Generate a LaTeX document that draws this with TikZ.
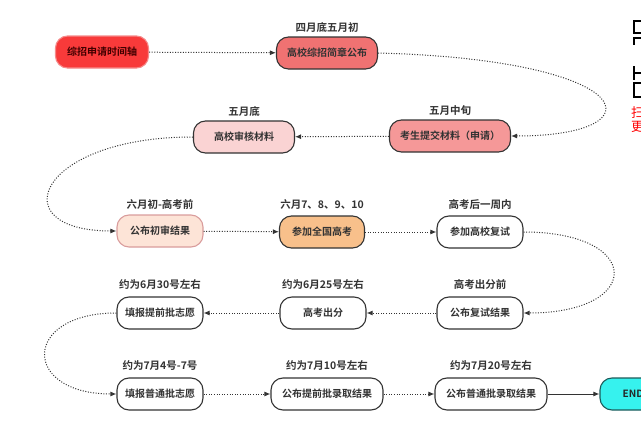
\documentclass[tikz,border=0pt]{standalone}
\usepackage{fontspec}
\setmainfont{Noto Sans CJK SC}[BoldFont={Noto Sans CJK SC Bold}]
\usetikzlibrary{arrows.meta,positioning}

\definecolor{startred}{HTML}{F83A3A}
\definecolor{startline}{HTML}{F58A8A}
\definecolor{redA}{HTML}{F07272}
\definecolor{redB}{HTML}{F59898}
\definecolor{pinkC}{HTML}{FAD3D3}
\definecolor{peachD}{HTML}{FDE4D7}
\definecolor{peachline}{HTML}{D99C9C}
\definecolor{orangeE}{HTML}{F8C08B}
\definecolor{endcyan}{HTML}{36F2EE}
\definecolor{endline}{HTML}{1C5A5A}
\definecolor{ink}{HTML}{333333}

\begin{document}
\begin{tikzpicture}[
  x=1pt, y=-1pt,
  stage/.style={rectangle, rounded corners=12pt, draw=ink, line width=1.1pt, fill=white, align=center, minimum width=86pt, minimum height=32pt, inner sep=2pt, font=\bfseries\fontsize{10}{12}\selectfont, text=ink},
  when/.style={inner sep=1pt, font=\bfseries\fontsize{10.5}{12}\selectfont, text=ink},
  link/.style={-{Latex[length=6pt,width=5pt]}, dash pattern=on 1pt off 1.6pt, line width=1pt, draw=ink},
  solidlink/.style={-{Latex[length=6pt,width=5pt]}, line width=1pt, draw=ink}
]
  \useasboundingbox (0,0) rectangle (641,423);

  % row 1 and 2
  \node[stage, fill=startred, draw=startline, minimum width=93pt, text=black!75!red] (start) at (102,52) {综招申请时间轴};
  \node[stage, fill=redA, minimum width=101pt] (brochure) at (327,53) {高校综招简章公布};
  \node[stage, fill=redB, minimum width=121pt] (submit) at (450,136) {考生提交材料（申请）};
  \node[stage, fill=pinkC, minimum width=101pt] (review) at (244,137) {高校审核材料};
  \node[when, above=3pt of brochure] (t_brochure) {四月底五月初};
  \node[when, above=3pt of submit] (t_submit) {五月中旬};
  \node[when, above=3pt of review] (t_review) {五月底};

  % row 3 and 4
  \node[stage, fill=peachD, draw=peachline] (firstres) at (160,231) {公布初审结果};
  \node[stage, fill=orangeE, minimum width=85pt] (gaokao) at (322,232) {参加全国高考};
  \node[stage] (interview) at (480,232) {参加高校复试};
  \node[stage] (interres) at (480,313) {公布复试结果};
  \node[stage] (score) at (323,313) {高考出分};
  \node[stage] (earlyapp) at (160,313) {填报提前批志愿};
  \node[when, above=4pt of firstres] (t_firstres) {六月初-高考前};
  \node[when, above=5pt of gaokao] (t_gaokao) {六月7、8、9、10};
  \node[when, above=5pt of interview] (t_interview) {高考后一周内};
  \node[when, above=6pt of interres] (t_interres) {高考出分前};
  \node[when, above=6pt of score] (t_score) {约为6月25号左右};
  \node[when, above=6pt of earlyapp] (t_earlyapp) {约为6月30号左右};

  % row 5
  \node[stage] (normalapp) at (160,394) {填报普通批志愿};
  \node[stage, minimum width=112pt] (earlyres) at (327,394) {公布提前批录取结果};
  \node[stage, minimum width=112pt] (normalres) at (491,394) {公布普通批录取结果};
  \node[stage, fill=endcyan, draw=endline, minimum width=66pt, text=black!85] (finish) at (633,394) {END};
  \node[when, above=6pt of normalapp] (t_normalapp) {约为7月4号-7号};
  \node[when, above=6pt of earlyres] (t_earlyres) {约为7月10号左右};
  \node[when, above=6pt of normalres] (t_normalres) {约为7月20号左右};

  \draw[link] (start) -- (brochure);
  \draw[link] (brochure.east) .. controls +(263,7) and +(150,0) .. (submit.east);
  \draw[link] (submit) -- (review);
  \draw[link] (review.west) .. controls +(-156,0) and +(-116,0) .. (firstres.west);
  \draw[link] (firstres) -- (gaokao);
  \draw[link] (gaokao) -- (interview);
  \draw[link] (interview.east) .. controls +(120,0) and +(120,0) .. (interres.east);
  \draw[link] (interres) -- (score);
  \draw[link] (score) -- (earlyapp);
  \draw[link] (earlyapp.west) .. controls +(-95,0) and +(-95,0) .. (normalapp.west);
  \draw[link] (normalapp) -- (earlyres);
  \draw[link] (earlyres) -- (normalres);
  \draw[solidlink] (normalres) -- (finish);

  % cut-off code at the right edge
  \draw[line width=2pt] (642,21) -| (634,33) -- (642,33);
  \draw[line width=2pt] (642,38) -| (634,45);
  \draw[line width=2pt] (634,66) -- (634,80) (634,73) -- (642,73);
  \draw[line width=2pt] (642,83) -| (634,97) -- (642,97);
  \node[anchor=west, inner sep=0pt, text=red, font=\fontsize{13}{13}\selectfont] (scan) at (631,113) {扫};
  \node[anchor=west, inner sep=0pt, text=red, font=\fontsize{13}{13}\selectfont] (more) at (631,127) {更};
\end{tikzpicture}
\end{document}
